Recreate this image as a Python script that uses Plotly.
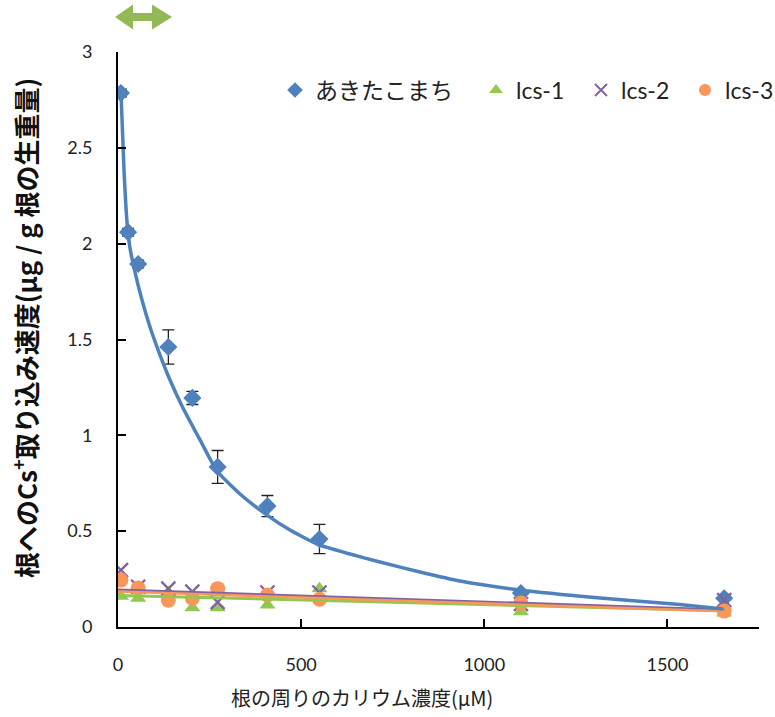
import plotly.graph_objects as go

# ---- data ----
akita_x = [8, 27.5, 55, 137.5, 203, 272, 408, 550, 1100, 1655]
akita_y = [2.786, 2.06, 1.894, 1.461, 1.195, 0.835, 0.631, 0.459, 0.177, 0.150]
akita_err = [0.02, 0.02, 0.02, 0.089, 0.034, 0.086, 0.055, 0.076, 0.01, 0.01]

# smooth fitted curve
curve_x = [8.2, 16.4, 24.6, 32.8, 46.4, 65.5, 87.4, 114.7, 142.0, 174.7, 223.9, 270.3,
           333.1, 406.8, 469.6, 548.8, 633.4, 715.3, 824.5, 933.7, 1097.5, 1316, 1534, 1651.7]
curve_y = [2.786, 2.384, 2.113, 1.977, 1.852, 1.706, 1.565, 1.419, 1.289, 1.153, 0.976, 0.814,
           0.694, 0.584, 0.506, 0.428, 0.381, 0.339, 0.287, 0.240, 0.193, 0.151, 0.117, 0.094]

lcs_x = [8, 55, 137.5, 203, 272, 408, 550, 1100, 1655]
lcs1_y = [0.160, 0.150, 0.180, 0.100, 0.100, 0.115, 0.200, 0.080, 0.073]
lcs2_y = [0.297, 0.210, 0.200, 0.185, 0.130, 0.180, 0.180, 0.120, 0.140]
lcs3_y = [0.245, 0.203, 0.140, 0.150, 0.200, 0.167, 0.145, 0.125, 0.083]

trend_x = [0, 1655]
lcs1_trend = [0.165, 0.085]
lcs2_trend = [0.195, 0.090]
lcs3_trend = [0.185, 0.082]

names = ["あきたこまち", "lcs-1", "lcs-2", "lcs-3"]
BLUE, GREEN, PURPLE, ORANGE = "#4F81BD", "#92C850", "#8064A2", "#F9965A"

FONT = "Lato, 'Noto Sans CJK JP', sans-serif"
JFONT = "'Noto Sans CJK JP', Lato, sans-serif"

fig = go.Figure()

fig.add_trace(go.Scatter(
    x=akita_x, y=akita_y, mode="markers", name=names[0], legend="legend",
    marker=dict(symbol="diamond", size=14, color=BLUE),
    error_y=dict(type="data", array=akita_err, color="#222222", thickness=1.3, width=6),
))
fig.add_trace(go.Scatter(
    x=lcs_x, y=lcs1_y, mode="markers", name=names[1], legend="legend2",
    marker=dict(symbol="triangle-up", size=14, color=GREEN),
))
fig.add_trace(go.Scatter(
    x=lcs_x, y=lcs2_y, mode="markers", name=names[2], legend="legend3",
    marker=dict(symbol="x-thin", size=14, color=PURPLE, line=dict(color=PURPLE, width=2.4)),
))
fig.add_trace(go.Scatter(
    x=lcs_x, y=lcs3_y, mode="markers", name=names[3], legend="legend4",
    marker=dict(symbol="circle", size=15, color=ORANGE),
))

# trend lines
fig.add_trace(go.Scatter(x=trend_x, y=lcs1_trend, mode="lines", showlegend=False,
                         line=dict(color=GREEN, width=3)))
fig.add_trace(go.Scatter(x=trend_x, y=lcs2_trend, mode="lines", showlegend=False,
                         line=dict(color=PURPLE, width=2.5)))
fig.add_trace(go.Scatter(x=trend_x, y=lcs3_trend, mode="lines", showlegend=False,
                         line=dict(color=ORANGE, width=2.5)))
fig.add_trace(go.Scatter(x=curve_x, y=curve_y, mode="lines", showlegend=False,
                         line=dict(color=BLUE, width=3.5, shape="spline", smoothing=0.5)))

axis_common = dict(
    showline=True, linecolor="black", linewidth=2, showgrid=False, zeroline=False,
    ticks="inside", ticklen=8, tickwidth=2, tickcolor="black",
    tickfont=dict(family=FONT, size=18, color="#222222"),
)
fig.update_xaxes(range=[0, 1750], tickvals=[0, 500, 1000, 1500], ticklabelstandoff=20, **axis_common)
fig.update_yaxes(range=[0, 3], dtick=0.5, ticklabelstandoff=20, **axis_common)

legend_common = dict(orientation="h", yref="paper", y=1.0 - (90 - 52) / 575, yanchor="middle",
                     xanchor="left", bgcolor="rgba(0,0,0,0)",
                     font=dict(family=FONT, size=23, color="#222222"), itemsizing="constant")
fig.update_layout(
    width=775, height=717,
    margin=dict(l=118, r=16, t=52, b=90, autoexpand=False),
    paper_bgcolor="white", plot_bgcolor="white",
    legend=dict(x=(275 - 118) / 641, **legend_common),
    legend2=dict(x=(476 - 118) / 641, **legend_common),
    legend3=dict(x=(581 - 118) / 641, **legend_common),
    legend4=dict(x=(685 - 118) / 641, **legend_common),
    annotations=[
        dict(text="根へのCs<sup>+</sup>取り込み速度(μg / g 根の生重量)", textangle=-90,
             xref="paper", yref="paper", x=(24 - 118) / 641, y=(627 - 328) / 575,
             xanchor="center", yanchor="middle", showarrow=False,
             font=dict(family=JFONT, size=26, color="#111111", weight="bold")),
        dict(text="根の周りのカリウム濃度(μM)",
             xref="paper", yref="paper", x=(362 - 118) / 641, y=(627 - 697) / 575,
             xanchor="center", yanchor="middle", showarrow=False,
             font=dict(family=JFONT, size=20, color="#222222")),
    ],
    shapes=[
        dict(type="path", xref="paper", yref="paper", xsizemode="pixel", ysizemode="pixel",
             xanchor=0, yanchor=1,
             path="M -3 35 L 15 47.5 L 15 39 L 34 39 L 34 47.5 L 54 35 L 34 22.5 L 34 31 L 15 31 L 15 22.5 Z",
             fillcolor="#92B955", line=dict(width=0)),
    ],
)

fig.write_html("out.html")
